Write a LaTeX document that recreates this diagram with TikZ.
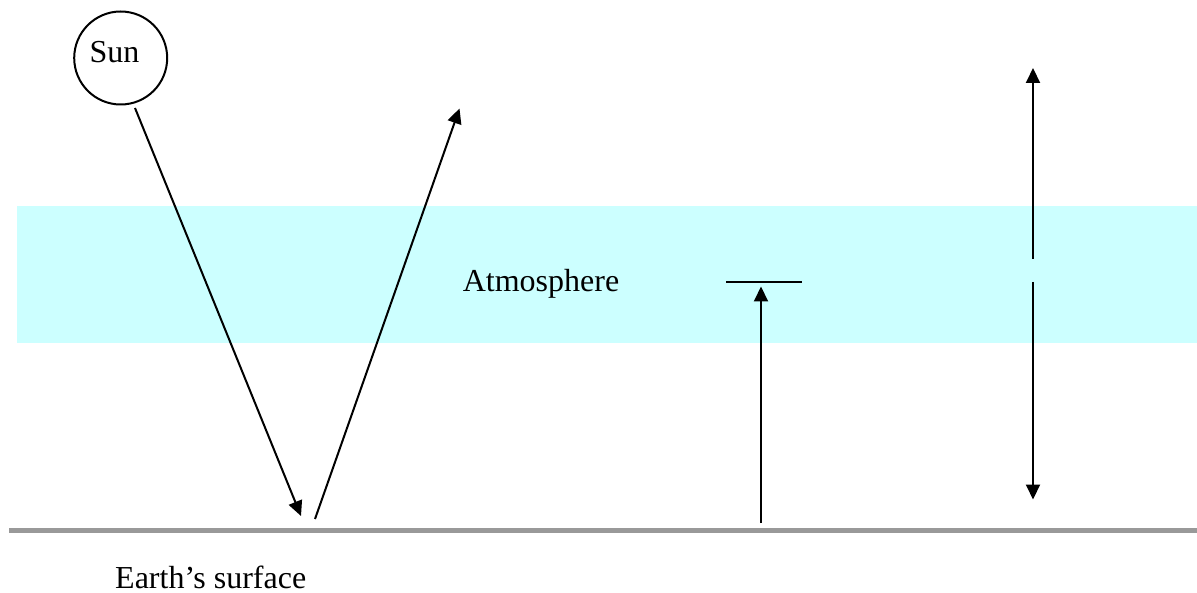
\documentclass[tikz,border=0pt]{standalone}
\usepackage{fontspec}
\setmainfont{Liberation Serif}
\usetikzlibrary{arrows.meta}
\definecolor{atmo}{RGB}{204,255,255}
\definecolor{ground}{RGB}{153,153,153}
\begin{document}
\begin{tikzpicture}[x=1pt,y=-1pt,
  lbl/.style={font=\fontsize{32}{37}\selectfont, inner sep=0pt, anchor=base},
  ray/.style={line width=2pt, -{Triangle[length=15pt,width=14pt]}},
  plain/.style={line width=2pt}]
\useasboundingbox (0,0) rectangle (1197,593);
% atmosphere band
\fill[atmo] (17,206) rectangle (1197,343);
\node[lbl] (atm) at (541,292) {Atmosphere};
% ground
\draw[ground, line width=5pt] (9,530.5) coordinate (g1) -- (1197,530.5) coordinate (g2);
\node[lbl, anchor=base west] (earth) at (115,588) {Earth’s surface};
% sun
\node[circle, draw, line width=2pt, minimum size=93pt, inner sep=0pt] (sun) at (120.7,58) {};
\node[lbl] (suntxt) at (114.4,62.7) {Sun};
% incoming and reflected rays
\coordinate (s0) at (135,108);
\coordinate (s1) at (301,516);
\draw[ray] (s0) -- (s1);
\coordinate (r0) at (315,519);
\coordinate (r1) at (459.5,108.5);
\draw[ray] (r0) -- (r1);
% absorbed ray
\coordinate (m0) at (761,523);
\coordinate (m1) at (761,286.5);
\draw[ray] (m0) -- (m1);
\coordinate (b0) at (726,282.3);
\coordinate (b1) at (802,282.3);
\draw[plain] (b0) -- (b1);
% right double arrow with gap
\coordinate (t0) at (1033,259);
\coordinate (t1) at (1033,68);
\draw[ray] (t0) -- (t1);
\coordinate (d0) at (1033,282);
\coordinate (d1) at (1033,499.5);
\draw[ray] (d0) -- (d1);
\end{tikzpicture}
\end{document}
